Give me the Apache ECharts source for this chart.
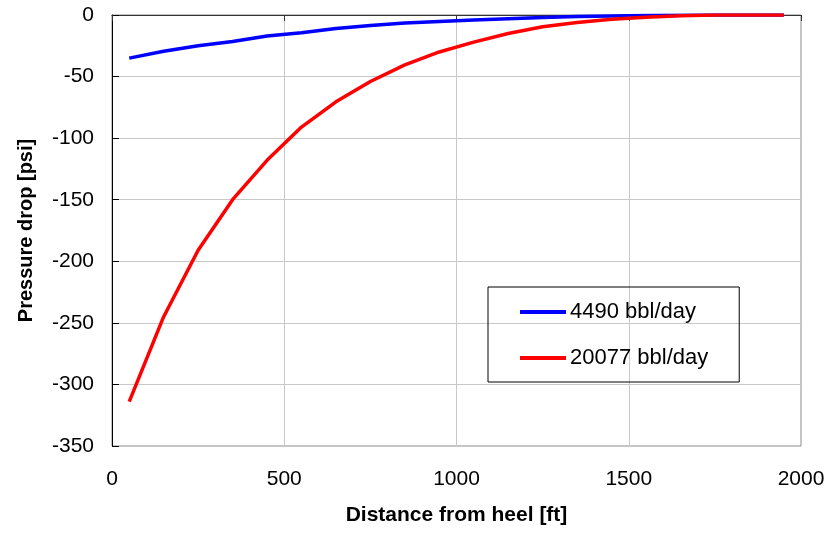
<!DOCTYPE html>
<html>
<head>
<meta charset="utf-8">
<script src="https://cdn.jsdelivr.net/npm/echarts@6/dist/echarts.min.js"></script>
<style>
html,body{margin:0;padding:0;background:#fff;}
#chart{width:830px;height:535px;}
</style>
</head>
<body>
<div id="chart"></div>
<script>
var distance = [50,150,250,350,450,550,650,750,850,950,1050,1150,1250,1350,1450,1550,1650,1750,1850,1950];
var low = [-35,-29.5,-25,-21.5,-17,-14.5,-11,-8.5,-6.5,-5.2,-4,-3,-2,-1.3,-0.8,-0.5,-0.3,-0.1,0,0];
var high = [-314,-245,-191,-150,-118,-91,-70.5,-54,-40.5,-30,-22,-15,-9.5,-6,-3.5,-1.8,-0.7,0,0,0];
var seriesNames = ['4490 bbl/day','20077 bbl/day'];
var xTicks = {min:0,max:2000,step:500};
var yTicks = {min:-350,max:0,step:50};

function pairs(xs, ys){ return xs.map(function(x,i){return [x, ys[i]];}); }
var font = '"Liberation Sans", Arial, sans-serif';
var chart = echarts.init(document.getElementById('chart'), null, {renderer:'canvas'});
chart.setOption({
  animation:false,
  backgroundColor:'#fff',
  textStyle:{fontFamily:font},
  grid:{left:112,right:29,top:15,bottom:89,show:true,borderColor:'#888',borderWidth:1,containLabel:false},
  legend:{
    left:488, top:287, orient:'vertical',
    borderColor:'#000', borderWidth:1,
    padding:[14,31,13,32],
    itemWidth:46, itemHeight:4, itemGap:24,
    icon:'rect',
    textStyle:{fontSize:22, color:'#000', fontFamily:font, lineHeight:22, padding:[0,0,0,-1]},
    data:seriesNames
  },
  xAxis:[{
    type:'value', min:xTicks.min, max:xTicks.max, interval:xTicks.step, position:'bottom',
    name:'Distance from heel [ft]', nameLocation:'middle', nameGap:59,
    nameTextStyle:{fontSize:21, fontWeight:'bold', color:'#000', fontFamily:font},
    axisLine:{show:true, lineStyle:{color:'#888', width:1}},
    axisTick:{show:false},
    axisLabel:{fontSize:21, color:'#000', margin:23, fontFamily:font, formatter:function(v){return String(v);}},
    splitLine:{show:true, lineStyle:{color:'#c8c8c8', width:1}}
  },{
    type:'value', min:xTicks.min, max:xTicks.max, interval:xTicks.step, position:'top',
    axisLine:{show:true, lineStyle:{color:'#333', width:1}},
    axisTick:{show:true, inside:true, length:6, lineStyle:{color:'#333'}},
    axisLabel:{show:false},
    splitLine:{show:false}
  }],
  yAxis:{
    type:'value', min:yTicks.min, max:yTicks.max, interval:yTicks.step,
    name:'Pressure drop [psi]', nameLocation:'middle', nameGap:76, nameRotate:90,
    nameTextStyle:{fontSize:20, fontWeight:'bold', color:'#000', fontFamily:font},
    axisLine:{show:true, onZero:false, lineStyle:{color:'#000', width:1}},
    axisTick:{show:true, inside:true, length:7, lineStyle:{color:'#000'}},
    axisLabel:{fontSize:21, color:'#000', margin:18, fontFamily:font, formatter:function(v){return String(v);}},
    splitLine:{show:true, lineStyle:{color:'#c8c8c8', width:1}}
  },
  series:[{
    name:seriesNames[0], type:'line', xAxisIndex:0, data:pairs(distance, low),
    showSymbol:false, symbol:'none', color:'#0000ff',
    lineStyle:{color:'#0000ff', width:3.5}
  },{
    name:seriesNames[1], type:'line', xAxisIndex:0, data:pairs(distance, high),
    showSymbol:false, symbol:'none', color:'#ff0000',
    lineStyle:{color:'#ff0000', width:3.5}
  }]
});
</script>
</body>
</html>
